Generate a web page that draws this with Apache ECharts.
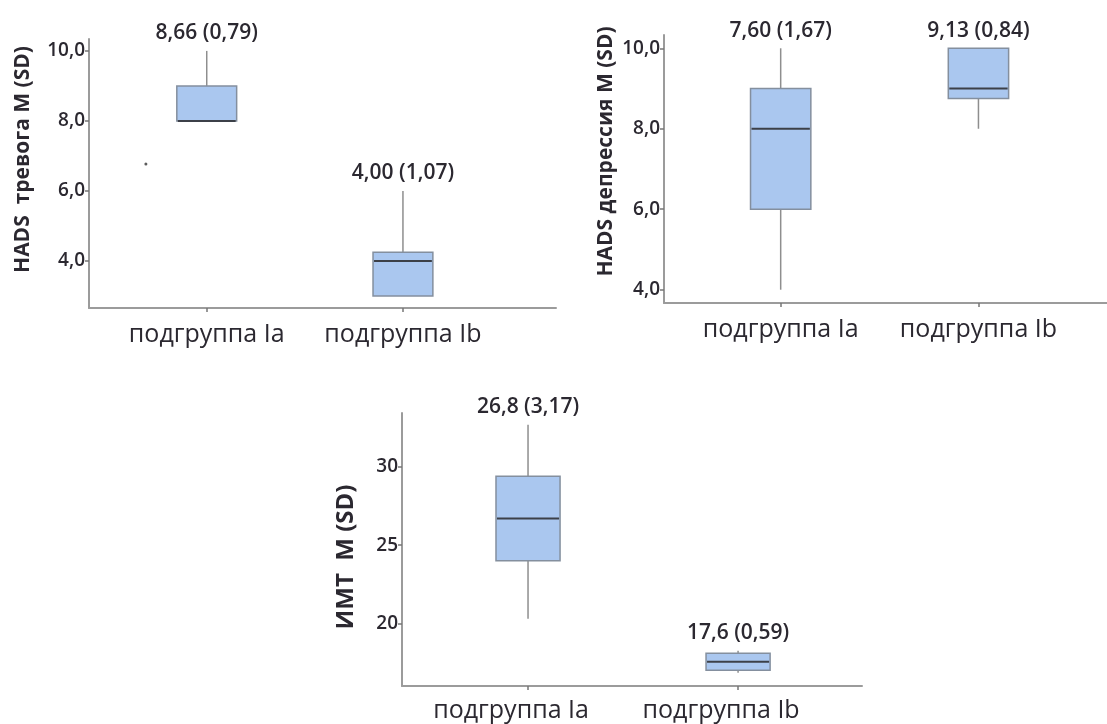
<!DOCTYPE html>
<html>
<head>
<meta charset="utf-8">
<script src="https://cdn.jsdelivr.net/npm/echarts@6/dist/echarts.min.js"></script>
<style>
  html, body { margin: 0; padding: 0; background: #ffffff; }
  #chart { width: 1107px; height: 724px; }
</style>
</head>
<body>
<div id="chart"></div>
<script>
// Groups shown on every x axis
const groups = ['подгруппа Ia', 'подгруппа Ib'];

// Five-number summaries per group: [min, Q1, median, Q3, max]
const anxietyBoxes = [[8, 8, 8, 9, 10], [3, 3, 4, 4.25, 6]];
const anxietyMean = [8.66, 4.00];
const anxietySD = [0.79, 1.07];
const anxietyStray = [[-0.31, 6.77]];

const depressionBoxes = [[4, 6, 8, 9, 10], [8, 8.75, 9, 10, 10]];
const depressionMean = [7.60, 9.13];
const depressionSD = [1.67, 0.84];

const bmiBoxes = [[20.3, 24.0, 26.7, 29.4, 32.7], [16.85, 17.0, 17.55, 18.1, 18.25]];
const bmiMean = [26.8, 17.6];
const bmiSD = [3.17, 0.59];

// Tick labels
const hadsTicks = [4, 6, 8, 10];
const bmiTicks = [20, 25, 30];

const FONT = '"Open Sans", "Noto Sans", "DejaVu Sans", sans-serif';
const TEXT = '#2b2830';
const AXIS = '#9b9b9b';
const BOX_FILL = '#aac7ef';
const BOX_EDGE = '#848f9e';
const WHISKER = '#8e8e8e';
const MEDIAN = '#3c4048';
const BOX_RATIO = 0.305;

const comma = (v, d) => v.toFixed(d).replace('.', ',');

const panels = [
  {
    grid: { left: 89, top: 39, width: 467, height: 269 },
    xRange: [-0.6, 1.78], yRange: [2.66, 10.34],
    ticks: hadsTicks, tickDigits: 1,
    name: 'HADS  тревога M (SD)', nameGap: 55, nameSize: 21, namePad: [0, 0, 0, 28],
    labelShift: 0, labelMargin: 14,
    boxes: anxietyBoxes, mean: anxietyMean, sd: anxietySD, meanDigits: 2,
    stray: anxietyStray
  },
  {
    grid: { left: 664, top: 35, width: 443, height: 268 },
    xRange: [-0.59, 1.65], yRange: [3.67, 10.33],
    ticks: hadsTicks, tickDigits: 1,
    name: 'HADS депрессия M (SD)', nameGap: 47, nameSize: 21, namePad: [0, 0, 0, 35],
    labelShift: 0, labelMargin: 14,
    boxes: depressionBoxes, mean: depressionMean, sd: depressionSD, meanDigits: 2,
    stray: []
  },
  {
    grid: { left: 402, top: 413, width: 460, height: 273 },
    xRange: [-0.6, 1.59], yRange: [16.0, 33.45],
    ticks: bmiTicks, tickDigits: 0,
    name: 'ИМТ  M (SD)', nameGap: 44, nameSize: 24, namePad: [0, 15, 0, 0],
    labelShift: 34, labelMargin: 12,
    boxes: bmiBoxes, mean: bmiMean, sd: bmiSD, meanDigits: 1,
    stray: []
  }
];

function makeRenderer(panel) {
  return function (params, api) {
    const x = api.value(0);
    const lo = api.value(1), q1 = api.value(2), med = api.value(3), q3 = api.value(4), hi = api.value(5);
    const half = api.size([1, 0])[0] * BOX_RATIO / 2;
    const pLo = api.coord([x, lo]);
    const pQ1 = api.coord([x, q1]);
    const pMed = api.coord([x, med]);
    const pQ3 = api.coord([x, q3]);
    const pHi = api.coord([x, hi]);
    const cx = pMed[0];
    const i = params.dataIndex;
    const text = comma(panel.mean[i], panel.meanDigits) + ' (' + comma(panel.sd[i], 2) + ')';
    return {
      type: 'group',
      children: [
        { type: 'line', shape: { x1: cx, y1: pQ3[1], x2: cx, y2: pHi[1] },
          style: { stroke: WHISKER, lineWidth: 1.5 } },
        { type: 'line', shape: { x1: cx, y1: pQ1[1], x2: cx, y2: pLo[1] },
          style: { stroke: WHISKER, lineWidth: 1.5 } },
        { type: 'rect', shape: { x: cx - half, y: pQ3[1], width: half * 2, height: pQ1[1] - pQ3[1] },
          style: { fill: BOX_FILL, stroke: BOX_EDGE, lineWidth: 1.5 } },
        { type: 'line', shape: { x1: cx - half + 1, y1: pMed[1], x2: cx + half - 1, y2: pMed[1] },
          style: { stroke: MEDIAN, lineWidth: 2 } },
        { type: 'text', x: cx, y: pHi[1] - 7,
          style: { text: text, textAlign: 'center', textVerticalAlign: 'bottom',
                   fill: TEXT, font: '600 21px ' + FONT } }
      ]
    };
  };
}

const option = {
  backgroundColor: '#ffffff',
  animation: false,
  grid: [], xAxis: [], yAxis: [], series: []
};

panels.forEach((p, k) => {
  option.grid.push(Object.assign({ containLabel: false }, p.grid));
  option.xAxis.push({
    type: 'value', gridIndex: k, min: p.xRange[0], max: p.xRange[1],
    splitLine: { show: false },
    axisLine: { show: true, onZero: false, lineStyle: { color: AXIS, width: 2 } },
    axisTick: { show: true, customValues: [0, 1], length: 4, lineStyle: { color: '#777', width: 1.5 } },
    axisLabel: {
      customValues: [0, 1], formatter: v => groups[Math.round(v)],
      color: TEXT, fontFamily: FONT, fontSize: 25, fontWeight: 500,
      margin: p.labelMargin, padding: [0, p.labelShift, 0, 0]
    }
  });
  option.yAxis.push({
    type: 'value', gridIndex: k, min: p.yRange[0], max: p.yRange[1],
    splitLine: { show: false },
    axisLine: { show: true, onZero: false, lineStyle: { color: AXIS, width: 2 } },
    axisTick: { show: true, customValues: p.ticks, length: 4, lineStyle: { color: '#777', width: 1.5 } },
    axisLabel: {
      customValues: p.ticks, formatter: v => comma(v, p.tickDigits),
      color: TEXT, fontFamily: FONT, fontSize: 19, fontWeight: 600, margin: 4
    },
    name: p.name, nameLocation: 'middle', nameRotate: 90, nameGap: p.nameGap,
    nameTextStyle: { color: TEXT, fontFamily: FONT, fontSize: p.nameSize, fontWeight: 700,
                     padding: p.namePad }
  });
  option.series.push({
    type: 'custom', xAxisIndex: k, yAxisIndex: k,
    renderItem: makeRenderer(p),
    data: p.boxes.map((b, i) => [i].concat(b)),
    encode: { x: 0, y: [1, 2, 3, 4, 5] },
    z: 3
  });
  if (p.stray.length) {
    option.series.push({
      type: 'scatter', xAxisIndex: k, yAxisIndex: k,
      data: p.stray, symbolSize: 3,
      itemStyle: { color: '#333' }, z: 4
    });
  }
});

const chart = echarts.init(document.getElementById('chart'));
chart.setOption(option);
</script>
</body>
</html>
